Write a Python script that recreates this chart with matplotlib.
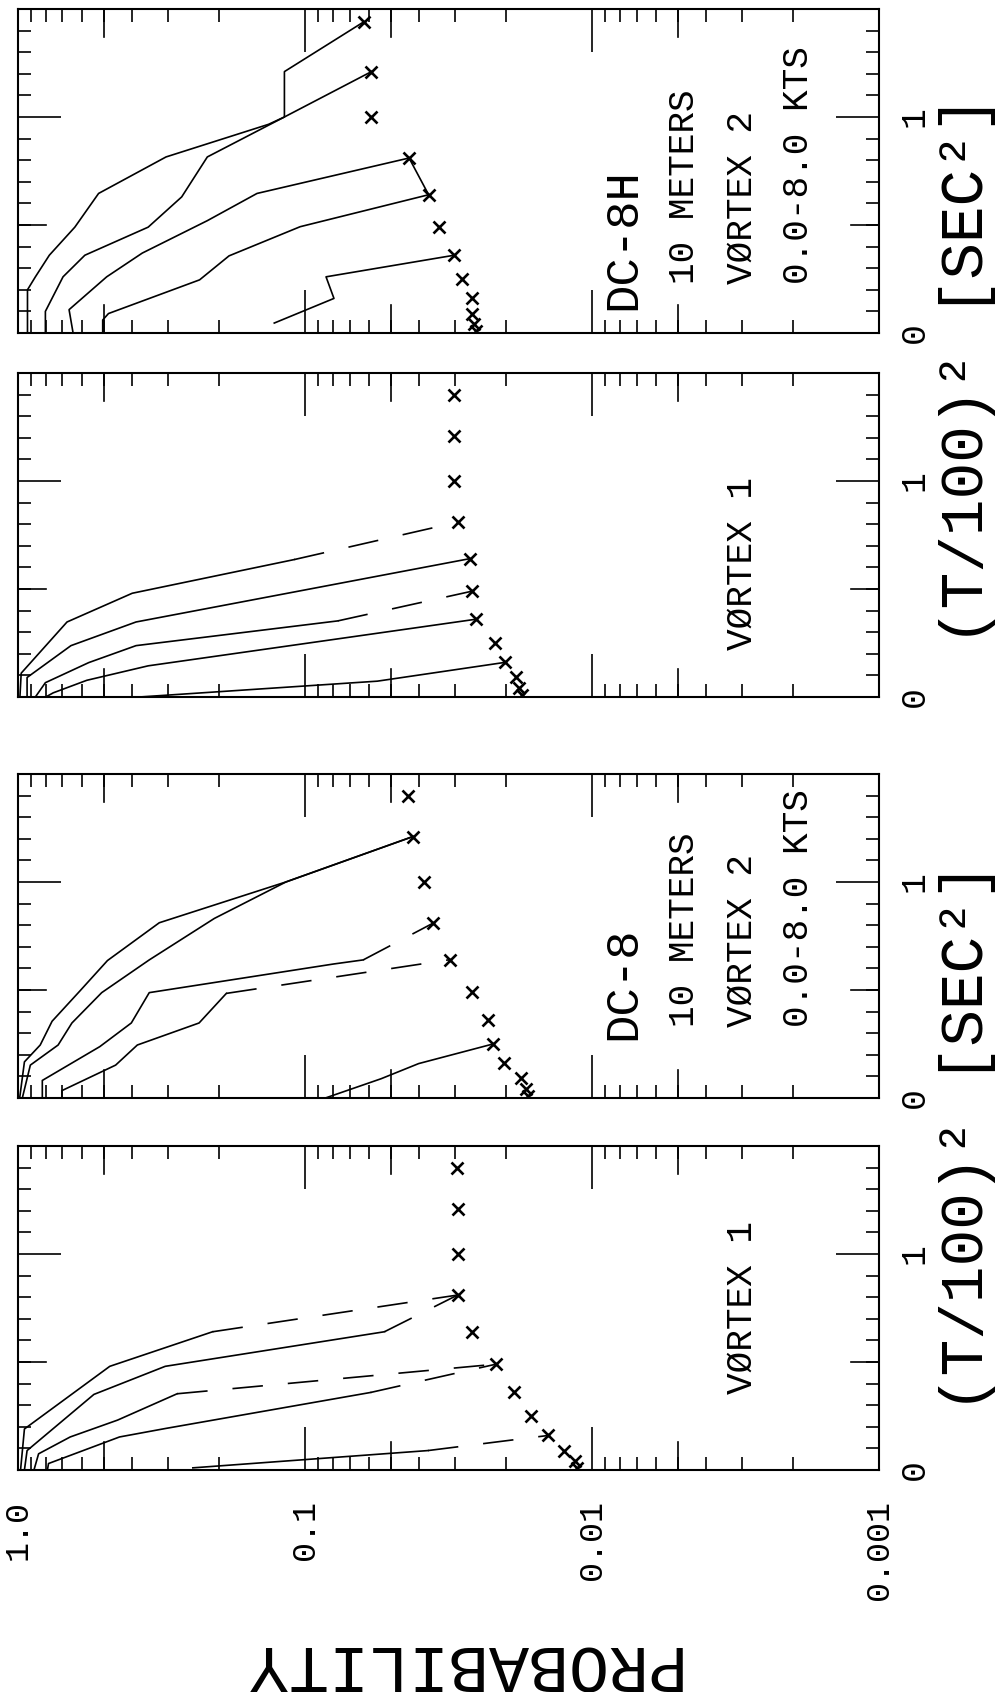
import matplotlib
matplotlib.use('Agg')
import matplotlib.pyplot as plt
from matplotlib.ticker import FixedLocator, LogLocator, MultipleLocator, NullFormatter

plt.rcParams['font.family'] = ['Liberation Mono', 'DejaVu Sans Mono', 'DejaVu Sans']
plt.rcParams['lines.scale_dashes'] = False

# ---- data: time axis is (T/100)^2 [sec^2], probability is log scale ----
# each curve: list of times, list of probabilities, index where the dashed tail starts (None = solid)

# DC-8, vortex 1
P1_TIME = [
    [0.00, 0.19, 0.48, 0.64, 0.81],
    [0.00, 0.09, 0.35, 0.48, 0.64, 0.81],
    [0.00, 0.075, 0.153, 0.231, 0.353, 0.49],
    [0.00, 0.03, 0.153, 0.192, 0.359, 0.49],
    [0.01, 0.09, 0.16],
]
P1_PROB = [
    [0.98, 0.95, 0.479, 0.210, 0.0294],
    [0.95, 0.93, 0.544, 0.307, 0.0529, 0.0294],
    [0.88, 0.848, 0.658, 0.450, 0.279, 0.0216],
    [0.79, 0.783, 0.443, 0.307, 0.0591, 0.0216],
    [0.246, 0.0373, 0.0142],
]
P1_DASH = [3, 4, 4, 4, 1]
P1_MARK_T = [0.01, 0.04, 0.09, 0.16, 0.25, 0.36, 0.49, 0.64, 0.81, 1.00, 1.21, 1.40]
P1_MARK_P = [0.0113, 0.0115, 0.0125, 0.0142, 0.0163, 0.0187, 0.0216, 0.0261, 0.0294, 0.0294, 0.0294, 0.0296]

# DC-8, vortex 2
P2_TIME = [
    [0.00, 0.167, 0.245, 0.355, 0.495, 0.636, 0.811, 1.00, 1.21],
    [0.00, 0.152, 0.245, 0.347, 0.4875, 0.639, 0.831, 1.00, 1.21],
    [0.00, 0.081, 0.2375, 0.347, 0.4875, 0.620, 0.639, 0.81],
    [0.00, 0.034, 0.152, 0.245, 0.347, 0.484, 0.64],
    [0.00, 0.089, 0.159, 0.25],
]
P2_PROB = [
    [0.987, 0.950, 0.837, 0.761, 0.609, 0.488, 0.322, 0.1165, 0.0421],
    [0.966, 0.906, 0.725, 0.649, 0.511, 0.349, 0.207, 0.1165, 0.0421],
    [0.823, 0.823, 0.519, 0.403, 0.349, 0.0796, 0.0627, 0.0357],
    [0.703, 0.703, 0.457, 0.384, 0.234, 0.188, 0.0313],
    [0.0848, 0.0543, 0.0402, 0.0221],
]
P2_DASH = [None, None, 6, 5, None]
P2_MARK_T = [0.01, 0.04, 0.09, 0.16, 0.25, 0.36, 0.49, 0.64, 0.81, 1.00, 1.21, 1.40]
P2_MARK_P = [0.0167, 0.0170, 0.0177, 0.0203, 0.0221, 0.0230, 0.0261, 0.0313, 0.0357, 0.0385, 0.0421, 0.0437]

# DC-8H, vortex 1
P3_TIME = [
    [0.00, 0.11, 0.347, 0.48, 0.636, 0.81],
    [0.00, 0.09, 0.2375, 0.347, 0.64],
    [0.00, 0.066, 0.159, 0.2375, 0.352, 0.49],
    [0.00, 0.019, 0.077, 0.144, 0.36],
    [0.00, 0.073, 0.16],
]
P3_PROB = [
    [0.985, 0.975, 0.675, 0.400, 0.109, 0.0292],
    [0.93, 0.93, 0.654, 0.388, 0.0267],
    [0.87, 0.803, 0.567, 0.388, 0.0769, 0.0261],
    [0.80, 0.754, 0.576, 0.352, 0.0253],
    [0.375, 0.0560, 0.0201],
]
P3_DASH = [4, None, 4, None, None]
P3_MARK_T = [0.01, 0.04, 0.09, 0.16, 0.25, 0.36, 0.49, 0.64, 0.81, 1.00, 1.21, 1.40]
P3_MARK_P = [0.0176, 0.0179, 0.0184, 0.0201, 0.0218, 0.0253, 0.0261, 0.0267, 0.0292, 0.0303, 0.0303, 0.0303]

# DC-8H, vortex 2
P4_TIME = [
    [0.00, 0.20, 0.26, 0.36, 0.49, 0.646, 0.815, 0.966, 1.00, 1.21, 1.44],
    [0.00, 0.10, 0.26, 0.36, 0.49, 0.63, 0.815, 1.00, 1.21],
    [0.00, 0.108, 0.26, 0.37, 0.52, 0.646, 0.81],
    [0.00, 0.06, 0.09, 0.246, 0.357, 0.492, 0.64, 0.81],
    [0.046, 0.16, 0.26, 0.36],
]
P4_PROB = [
    [0.927, 0.927, 0.870, 0.778, 0.634, 0.524, 0.305, 0.134, 0.118, 0.118, 0.0625],
    [0.803, 0.803, 0.697, 0.585, 0.352, 0.269, 0.219, 0.118, 0.0587],
    [0.643, 0.664, 0.491, 0.369, 0.219, 0.147, 0.0434],
    [0.507, 0.507, 0.484, 0.233, 0.184, 0.104, 0.0371, 0.0434],
    [0.128, 0.0793, 0.0845, 0.0302],
]
P4_DASH = [None, None, None, None, None]
P4_MARK_T = [0.01, 0.04, 0.09, 0.16, 0.25, 0.36, 0.49, 0.64, 0.81, 1.00, 1.21, 1.44]
P4_MARK_P = [0.0253, 0.0257, 0.0261, 0.0261, 0.0283, 0.0302, 0.0342, 0.0371, 0.0434, 0.0587, 0.0587, 0.0625]

PROB_TICKS = [1.0, 0.1, 0.01, 0.001]
PROB_LABELS = ['1.0', '0.1', '0.01', '0.001']
TIME_TICKS = [0, 1]


def draw_panel(ax, times, probs, dash, mark_t, mark_p):
    for t, p, d in zip(times, probs, dash):
        if d is None:
            ax.plot(p, t, color='k', lw=1.2)
        else:
            ax.plot(p[:d + 1], t[:d + 1], color='k', lw=1.2)
            ax.plot(p[d:], t[d:], color='k', lw=1.2, dashes=(22, 18))
    ax.plot(mark_p, mark_t, 'x', color='k', ms=8, mew=1.9, ls='none')

    ax.set_xscale('log')
    ax.set_xlim(1.0, 0.001)
    ax.set_ylim(0, 1.5)

    ax.xaxis.set_major_locator(FixedLocator(PROB_TICKS))
    ax.xaxis.set_minor_locator(LogLocator(base=10, subs=[2, 3, 4, 5, 6, 7, 8, 9]))
    ax.yaxis.set_major_locator(FixedLocator([1.0]))
    ax.yaxis.set_minor_locator(MultipleLocator(0.1))
    ax.xaxis.set_major_formatter(NullFormatter())
    ax.xaxis.set_minor_formatter(NullFormatter())
    ax.yaxis.set_major_formatter(NullFormatter())
    ax.tick_params(which='both', direction='in', top=True, bottom=True, left=True, right=True, color='k')
    ax.tick_params(which='major', length=31, width=1.2)
    ax.tick_params(which='minor', length=9.5, width=1.2)

    # half-decade / half-unit ticks are a bit longer
    xt = ax.get_xaxis_transform()
    for v in [0.5, 0.05, 0.005]:
        ax.plot([v, v], [0, 0.086], transform=xt, color='k', lw=1.2)
        ax.plot([v, v], [1 - 0.086, 1], transform=xt, color='k', lw=1.2)
    yt = ax.get_yaxis_transform()
    ax.plot([0, 0.0325], [0.5, 0.5], transform=yt, color='k', lw=1.2)
    ax.plot([1 - 0.0325, 1], [0.5, 0.5], transform=yt, color='k', lw=1.2)

    for s in ax.spines.values():
        s.set_linewidth(1.5)

    for v in TIME_TICKS:
        ax.text(1.041, v, str(v), transform=yt, rotation=90, ha='center', va='center', fontsize=25)


fig = plt.figure(figsize=(10.02, 16.92), dpi=100)
left, width, height = 0.018, 0.8593, 0.1915
ax1 = fig.add_axes([left, 0.1312, width, height])
ax2 = fig.add_axes([left, 0.3511, width, height])
ax3 = fig.add_axes([left, 0.5881, width, height])
ax4 = fig.add_axes([left, 0.8032, width, height])

draw_panel(ax1, P1_TIME, P1_PROB, P1_DASH, P1_MARK_T, P1_MARK_P)
draw_panel(ax2, P2_TIME, P2_PROB, P2_DASH, P2_MARK_T, P2_MARK_P)
draw_panel(ax3, P3_TIME, P3_PROB, P3_DASH, P3_MARK_T, P3_MARK_P)
draw_panel(ax4, P4_TIME, P4_PROB, P4_DASH, P4_MARK_T, P4_MARK_P)

# panel annotations
ax1.text(0.841, 0.235, 'VØRTEX 1', transform=ax1.transAxes, rotation=90, ha='center', va='bottom', fontsize=26)
ax3.text(0.841, 0.145, 'VØRTEX 1', transform=ax3.transAxes, rotation=90, ha='center', va='bottom', fontsize=26)

ax2.text(0.703, 0.18, 'DC-8', transform=ax2.transAxes, rotation=90, ha='center', va='bottom', fontsize=34)
ax2.text(0.7735, 0.22, '10 METERS', transform=ax2.transAxes, rotation=90, ha='center', va='bottom', fontsize=26)
ax2.text(0.841, 0.22, 'VØRTEX 2', transform=ax2.transAxes, rotation=90, ha='center', va='bottom', fontsize=26)
ax2.text(0.906, 0.22, '0.0-8.0 KTS', transform=ax2.transAxes, rotation=90, ha='center', va='bottom', fontsize=26)

ax4.text(0.703, 0.07, 'DC-8H', transform=ax4.transAxes, rotation=90, ha='center', va='bottom', fontsize=34)
ax4.text(0.7735, 0.15, '10 METERS', transform=ax4.transAxes, rotation=90, ha='center', va='bottom', fontsize=26)
ax4.text(0.841, 0.15, 'VØRTEX 2', transform=ax4.transAxes, rotation=90, ha='center', va='bottom', fontsize=26)
ax4.text(0.906, 0.15, '0.0-8.0 KTS', transform=ax4.transAxes, rotation=90, ha='center', va='bottom', fontsize=26)

# probability tick labels under the bottom panel
for v, s in zip(PROB_TICKS, PROB_LABELS):
    ax1.text(v, -0.093, s, transform=ax1.get_xaxis_transform(), rotation=90, ha='center', va='top', fontsize=24)

# axis titles
fig.text(968 / 1002, 1 - 1137 / 1692, '(T/100)² [SEC²]', rotation=90, ha='center', va='center', fontsize=44)
fig.text(968 / 1002, 1 - 370 / 1692, '(T/100)² [SEC²]', rotation=90, ha='center', va='center', fontsize=44)
fig.text(458 / 1002, 1 - 1662 / 1692, 'PROBABILITY', rotation=180, ha='center', va='center', fontsize=48)

fig.savefig('out.png', dpi=100, facecolor='white')
